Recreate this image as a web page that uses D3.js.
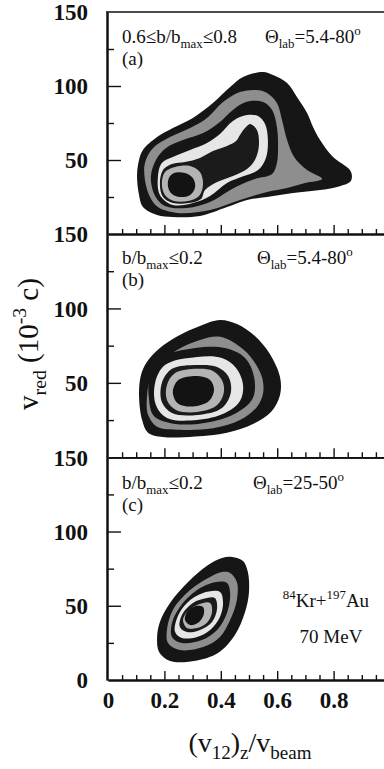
<!DOCTYPE html>
<html><head><meta charset="utf-8">
<script src="https://cdn.jsdelivr.net/npm/d3@7"></script>
<style>
html,body{margin:0;padding:0;background:#fff;overflow:hidden}
svg{display:block}
text{font-family:"Liberation Serif","Times New Roman",serif;fill:#111}
</style></head>
<body>
<script>
// ---------- data (x = (v12)z/vbeam, y = vred in 10^-3 c) ----------
const xMajorTicks = [0.2, 0.4, 0.6, 0.8];
const xMinorTicks = [0.05,0.1,0.15,0.25,0.3,0.35,0.45,0.5,0.55,0.65,0.7,0.75,0.85,0.9,0.95];
const xTickLabels = [0, 0.2, 0.4, 0.6, 0.8];
const yMajorTicks = [50, 100];
const yMinorTicks = [25, 75, 125];
const yLabelsAB = [50, 100, 150];
const yLabelsC = [0, 50, 100, 150];
const levelFills = ["#161616", "#8e8e8e", "#161616", "#e6e6e6", "#1b1b1b", "#b4b4b4", "#131313"];

// panel (a) contour levels, outermost first
const a1 = [[0.550,109.5],[0.585,107.4],[0.635,102.0],[0.670,92.6],[0.706,81.8],[0.727,72.3],[0.752,63.5],[0.798,52.0],[0.858,43.2],[0.865,38.5],[0.858,35.1],[0.812,31.8],[0.752,29.7],[0.656,27.7],[0.564,25.0],[0.493,23.0],[0.422,18.2],[0.326,12.2],[0.230,11.5],[0.174,12.8],[0.124,18.2],[0.110,26.4],[0.103,39.9],[0.110,50.0],[0.124,56.8],[0.174,65.5],[0.230,71.6],[0.301,78.4],[0.372,88.5],[0.433,99.3],[0.479,106.1]];
const a2 = [[0.525,97.3],[0.564,95.3],[0.599,88.5],[0.617,77.0],[0.635,63.5],[0.660,52.0],[0.706,43.2],[0.759,37.2],[0.699,34.5],[0.635,31.1],[0.564,28.4],[0.468,23.0],[0.362,16.2],[0.245,14.2],[0.177,18.2],[0.149,25.0],[0.131,36.5],[0.131,48.0],[0.160,58.1],[0.220,65.5],[0.291,71.6],[0.351,78.4],[0.408,89.2],[0.468,95.9]];
const a3 = [[0.489,89.2],[0.550,89.2],[0.582,83.8],[0.599,72.3],[0.603,58.8],[0.599,48.0],[0.582,40.5],[0.521,37.2],[0.468,33.1],[0.422,28.4],[0.362,21.6],[0.280,17.6],[0.202,18.9],[0.167,25.7],[0.152,38.5],[0.170,50.0],[0.206,58.1],[0.266,63.5],[0.337,68.2],[0.397,75.7],[0.443,83.8]];
const a4 = [[0.493,80.4],[0.532,79.7],[0.557,74.3],[0.567,63.5],[0.560,51.4],[0.532,43.2],[0.482,39.2],[0.422,34.5],[0.362,25.7],[0.301,20.9],[0.230,19.6],[0.184,26.4],[0.177,38.5],[0.191,48.0],[0.230,52.0],[0.291,56.8],[0.351,61.5],[0.397,67.6],[0.443,76.4]];
const a5 = [[0.195,43.2],[0.227,47.3],[0.273,48.6],[0.326,51.4],[0.372,56.1],[0.422,59.5],[0.454,62.8],[0.468,66.9],[0.486,71.6],[0.504,74.3],[0.528,70.3],[0.535,59.5],[0.521,50.0],[0.493,43.9],[0.443,39.2],[0.387,35.1],[0.344,29.7],[0.330,23.6],[0.287,20.9],[0.230,20.9],[0.195,25.0],[0.184,33.8]];
const a6 = [[0.202,41.9],[0.238,45.3],[0.291,45.9],[0.326,41.9],[0.337,33.8],[0.323,25.7],[0.284,22.3],[0.234,22.3],[0.202,26.4],[0.191,33.8]];
const a7 = [[0.216,37.8],[0.234,41.2],[0.273,41.2],[0.301,37.8],[0.309,31.8],[0.291,26.4],[0.255,25.0],[0.227,27.0],[0.213,31.8]];

// panel (b)
const b1 = [[0.397,92.2],[0.457,89.5],[0.521,81.5],[0.574,69.4],[0.610,53.9],[0.610,41.9],[0.578,30.4],[0.514,22.4],[0.422,16.5],[0.309,14.0],[0.195,13.6],[0.142,16.5],[0.121,25.0],[0.110,41.9],[0.117,55.3],[0.138,64.0],[0.184,73.4],[0.248,81.5],[0.326,88.2]];
const b2 = [[0.326,78.8],[0.397,80.9],[0.468,74.2],[0.514,65.4],[0.546,53.9],[0.550,43.2],[0.528,33.8],[0.468,25.0],[0.372,19.5],[0.255,18.5],[0.174,20.5],[0.142,28.5],[0.138,40.5],[0.149,51.9],[0.184,63.3],[0.245,72.1]];
const b3 = [[0.184,66.7],[0.309,73.4],[0.415,73.4],[0.486,66.7],[0.518,53.9],[0.514,39.8],[0.461,30.4],[0.362,23.7],[0.238,22.4],[0.163,27.7],[0.145,39.8],[0.149,55.3]];
const b4 = [[0.202,62.0],[0.316,67.4],[0.404,66.7],[0.454,60.0],[0.479,48.6],[0.468,37.8],[0.415,29.7],[0.316,25.0],[0.209,26.4],[0.170,35.1],[0.167,49.9]];
const b5 = [[0.227,59.4],[0.316,62.0],[0.387,60.7],[0.426,54.6],[0.436,43.9],[0.404,33.1],[0.316,28.4],[0.227,29.7],[0.191,37.1],[0.191,49.9]];
const b6 = [[0.238,56.6],[0.316,59.4],[0.372,58.0],[0.404,51.9],[0.411,43.9],[0.387,35.1],[0.316,30.4],[0.241,31.8],[0.209,38.5],[0.209,48.6]];
const b7 = [[0.255,52.6],[0.319,54.6],[0.362,51.9],[0.376,45.2],[0.358,37.8],[0.301,34.1],[0.248,36.1],[0.230,43.2],[0.238,49.2]];

// panel (c)
const c1 = [[0.440,82.9],[0.479,80.2],[0.496,72.7],[0.500,59.3],[0.486,45.8],[0.450,30.3],[0.390,18.2],[0.305,12.8],[0.220,12.8],[0.181,18.9],[0.174,28.3],[0.184,39.1],[0.220,51.9],[0.284,66.0],[0.355,77.5],[0.404,82.2]];
const c2 = [[0.433,72.1],[0.457,66.0],[0.457,53.9],[0.433,40.4],[0.397,29.0],[0.337,22.2],[0.255,20.2],[0.213,24.9],[0.209,33.7],[0.230,47.2],[0.291,60.6],[0.362,69.4],[0.404,72.7]];
const c3 = [[0.422,65.3],[0.433,58.6],[0.422,45.1],[0.387,33.7],[0.333,26.9],[0.262,24.9],[0.227,29.0],[0.227,38.4],[0.255,49.2],[0.316,60.6],[0.383,66.0]];
const c4 = [[0.397,59.3],[0.408,52.5],[0.397,42.4],[0.362,33.7],[0.316,29.0],[0.262,28.3],[0.238,32.3],[0.245,41.8],[0.280,51.9],[0.337,58.6]];
const c5 = [[0.379,55.2],[0.387,48.5],[0.369,39.1],[0.326,33.7],[0.280,32.3],[0.255,35.7],[0.262,43.8],[0.301,51.9],[0.351,55.2]];
const c6 = [[0.362,51.9],[0.369,45.8],[0.351,38.5],[0.316,35.0],[0.280,35.0],[0.266,40.4],[0.280,45.8],[0.316,50.5]];
const c7 = [[0.309,49.8],[0.337,49.2],[0.340,44.5],[0.323,39.1],[0.291,37.0],[0.273,40.4],[0.280,45.8]];

// ---------- layout ----------
const W = 384, H = 769;
const svg = d3.select("body").append("svg").attr("width", W).attr("height", H);
const x = d3.scaleLinear().domain([0, 1]).range([108, 390]);
const panels = [
  {levels:[a1,a2,a3,a4,a5,a6,a7], top:12, bottom:234, labels:yLabelsAB},
  {levels:[b1,b2,b3,b4,b5,b6,b7], top:234, bottom:457.3, labels:yLabelsAB},
  {levels:[c1,c2,c3,c4,c5,c6,c7], top:457.3, bottom:680, labels:yLabelsC}
];

const axisColor = "#111";
panels.forEach((p) => {
  const y = d3.scaleLinear().domain([0, 150]).range([p.bottom, p.top]);
  const line = d3.line().x(d => x(d[0])).y(d => y(d[1])).curve(d3.curveCatmullRomClosed.alpha(0.5));
  svg.append("g").selectAll("path").data(p.levels).join("path")
    .attr("d", line)
    .attr("fill", (d, k) => levelFills[k])
    .attr("stroke", "none");

  // x ticks (inward, upward)
  const gxMin = svg.append("g").attr("transform", `translate(0,${p.bottom})`)
    .call(d3.axisBottom(x).tickValues(xMinorTicks).tickSizeInner(-5).tickSizeOuter(0).tickFormat(""));
  const gxMaj = svg.append("g").attr("transform", `translate(0,${p.bottom})`)
    .call(d3.axisBottom(x).tickValues(xMajorTicks).tickSizeInner(-9).tickSizeOuter(0).tickFormat(""));
  [gxMin, gxMaj].forEach(gg => {
    gg.select(".domain").attr("stroke", axisColor).attr("stroke-width", 1.8);
    gg.selectAll(".tick line").attr("stroke", axisColor).attr("stroke-width", 1.4);
  });

  // y ticks (inward, rightward) with labels
  const gyMin = svg.append("g").attr("transform", `translate(107,0)`)
    .call(d3.axisLeft(y).tickValues(yMinorTicks).tickSizeInner(-7).tickSizeOuter(0).tickFormat(""));
  const gyMaj = svg.append("g").attr("transform", `translate(107,0)`)
    .call(d3.axisLeft(y).tickValues(yMajorTicks).tickSizeInner(-14).tickSizeOuter(0).tickFormat(""));
  [gyMin, gyMaj].forEach(gg => {
    gg.select(".domain").attr("stroke", axisColor).attr("stroke-width", 2);
    gg.selectAll(".tick line").attr("stroke", axisColor).attr("stroke-width", 1.4);
  });
  const gyLab = svg.append("g").attr("transform", `translate(107,0)`)
    .call(d3.axisLeft(y).tickValues(p.labels).tickSize(0).tickPadding(19).tickFormat(d3.format("d")));
  gyLab.select(".domain").remove();
  gyLab.selectAll("text").style("font-family", '"Liberation Serif",serif')
    .style("font-weight", "bold").style("font-size", "23px").attr("fill", "#111").attr("dy", "0.34em");
});

// top border of panel (a)
svg.append("line").attr("x1", 106).attr("x2", W).attr("y1", 12).attr("y2", 12)
  .attr("stroke", axisColor).attr("stroke-width", 1.6);

// x tick labels under panel (c)
const gxl = svg.append("g").attr("transform", `translate(0,680)`)
  .call(d3.axisBottom(x).tickValues(xTickLabels).tickSize(0).tickPadding(12)
    .tickFormat(d => d === 0 ? "0" : d3.format(".1f")(d)));
gxl.select(".domain").remove();
gxl.selectAll("text").style("font-family", '"Liberation Serif",serif')
  .style("font-weight", "bold").style("font-size", "23px").attr("fill", "#111");

// ---------- annotations ----------
function rich(sel, parts, size) {
  let shift = 0;
  parts.forEach(([t, k]) => {
    const ts = sel.append("tspan").text(t);
    let target = 0, fs = size;
    if (k === "sub") { target = size * 0.26; fs = size * 0.68; }
    if (k === "sup") { target = -size * 0.42; fs = size * 0.68; }
    ts.attr("dy", target - shift).style("font-size", fs + "px");
    shift = target;
  });
  return sel;
}
const ann = [
  {x:122, y:43, parts:[["0.6≤b/b","n"],["max","sub"],["≤0.8","n"]]},
  {x:265, y:43, parts:[["Θ","n"],["lab","sub"],["=5.4-80","n"],["o","sup"]]},
  {x:122, y:65, parts:[["(a)","n"]]},
  {x:122, y:264, parts:[["b/b","n"],["max","sub"],["≤0.2","n"]]},
  {x:257, y:264, parts:[["Θ","n"],["lab","sub"],["=5.4-80","n"],["o","sup"]]},
  {x:122, y:286, parts:[["(b)","n"]]},
  {x:122, y:489, parts:[["b/b","n"],["max","sub"],["≤0.2","n"]]},
  {x:253, y:489, parts:[["Θ","n"],["lab","sub"],["=25-50","n"],["o","sup"]]},
  {x:122, y:511, parts:[["(c)","n"]]}
];
ann.forEach(a => {
  rich(svg.append("text").attr("x", a.x).attr("y", a.y).style("font-size", "19px"), a.parts, 19);
});
rich(svg.append("text").attr("x", 326).attr("y", 607).attr("text-anchor", "middle").style("font-size", "19px"),
  [["84","sup"],["Kr+","n"],["197","sup"],["Au","n"]], 19);
svg.append("text").attr("x", 331).attr("y", 643).attr("text-anchor", "middle").style("font-size", "19px").text("70 MeV");

// axis titles
rich(svg.append("text").attr("x", 250).attr("y", 752).attr("text-anchor", "middle").style("font-size", "28px"),
  [["(v","n"],["12","sub"],[")","n"],["z","sub"],["/v","n"],["beam","sub"]], 28);
rich(svg.append("text").attr("transform", "translate(38,344) rotate(-90)").attr("text-anchor", "middle").style("font-size", "29px"),
  [["v","n"],["red","sub"],[" (10","n"],["-3","sup"],[" c)","n"]], 29);
</script>
</body></html>
